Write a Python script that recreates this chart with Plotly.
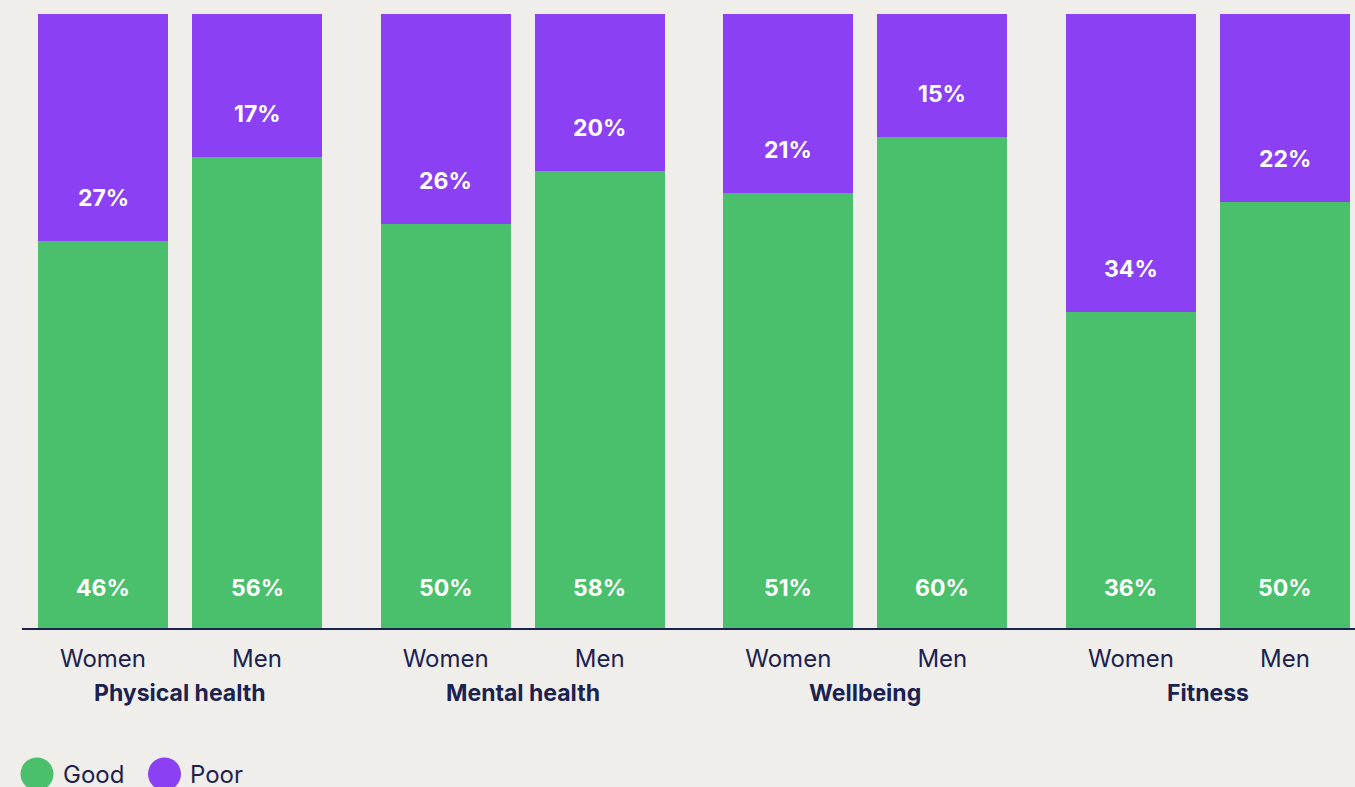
import plotly.graph_objects as go

groups = ["Physical health", "Mental health", "Wellbeing", "Fitness"]
genders = ["Women", "Men"]
good = [46, 56, 50, 58, 51, 60, 36, 50]
poor = [27, 17, 26, 20, 21, 15, 34, 22]
series_names = ["Good", "Poor"]

GREEN = "#4bc06c"
PURPLE = "#8b41f3"
BG = "#f0eeea"
NAVY = "#1b2250"
FONT = "Inter"

GAP = 0.225
xpos = [gi * (2 + GAP) + j for gi in range(len(groups)) for j in range(len(genders))]
ticktext = [g for _ in groups for g in genders]

good_norm = [100 * g / (g + p) for g, p in zip(good, poor)]
poor_norm = [100 * p / (g + p) for g, p in zip(good, poor)]

fig = go.Figure()
fig.add_trace(go.Bar(x=xpos, y=good_norm, name=series_names[0], marker_color=GREEN,
                     marker_line_width=0, width=0.844, hoverinfo="skip"))
fig.add_trace(go.Bar(x=xpos, y=poor_norm, name=series_names[1], marker_color=PURPLE,
                     marker_line_width=0, width=0.844, hoverinfo="skip"))

ann = []
for x, g, p, gn in zip(xpos, good, poor, good_norm):
    ann.append(dict(x=x, y=0, xref="x", yref="y", text=f"<b>{g}%</b>", showarrow=False,
                    yshift=40, font=dict(family=FONT, size=23, color="white")))
    ann.append(dict(x=x, y=gn, xref="x", yref="y", text=f"<b>{p}%</b>", showarrow=False,
                    yshift=43, font=dict(family=FONT, size=23, color="white")))
for gi, name in enumerate(groups):
    ann.append(dict(x=gi * (2 + GAP) + 0.5, y=0, xref="x", yref="paper", text=f"<b>{name}</b>",
                    showarrow=False, yshift=-65, yanchor="middle",
                    font=dict(family=FONT, size=23, color=NAVY)))

# legend (drawn manually for large circular swatches)
W = 1333.0
H = 614.0
leg_y = (628 - 774) / H
shapes = []
for cx, col, tx, name in [(37, GREEN, 61, series_names[0]), (164.5, PURPLE, 188, series_names[1])]:
    shapes.append(dict(type="circle", xref="paper", yref="paper", xsizemode="pixel", ysizemode="pixel",
                       xanchor=(cx - 22) / W, yanchor=leg_y, x0=-16.5, x1=16.5, y0=-16.5, y1=16.5,
                       fillcolor=col, line_width=0))
    ann.append(dict(x=(tx - 22) / W, y=leg_y, xref="paper", yref="paper", text=name, showarrow=False,
                    xanchor="left", yanchor="middle",
                    font=dict(family=FONT, size=24, color=NAVY)))

fig.update_layout(
    width=1355, height=787,
    margin=dict(l=22, r=0, t=14, b=159),
    paper_bgcolor=BG, plot_bgcolor=BG,
    barmode="stack", showlegend=False,
    annotations=ann, shapes=shapes,
    xaxis=dict(range=[-81 / 154, (1355 - 103) / 154], tickvals=xpos, ticktext=ticktext,
               showgrid=False, zeroline=False, showline=True, linecolor=NAVY, linewidth=2,
               ticks="outside", ticklen=8, tickcolor="rgba(0,0,0,0)",
               tickfont=dict(family=FONT, size=24, color=NAVY)),
    yaxis=dict(range=[0, 100], visible=False, showgrid=False, zeroline=False),
)

fig.write_html("out.html", config={"displayModeBar": False},
               post_script="document.body.style.margin='0';document.body.style.background='%s';" % BG)
